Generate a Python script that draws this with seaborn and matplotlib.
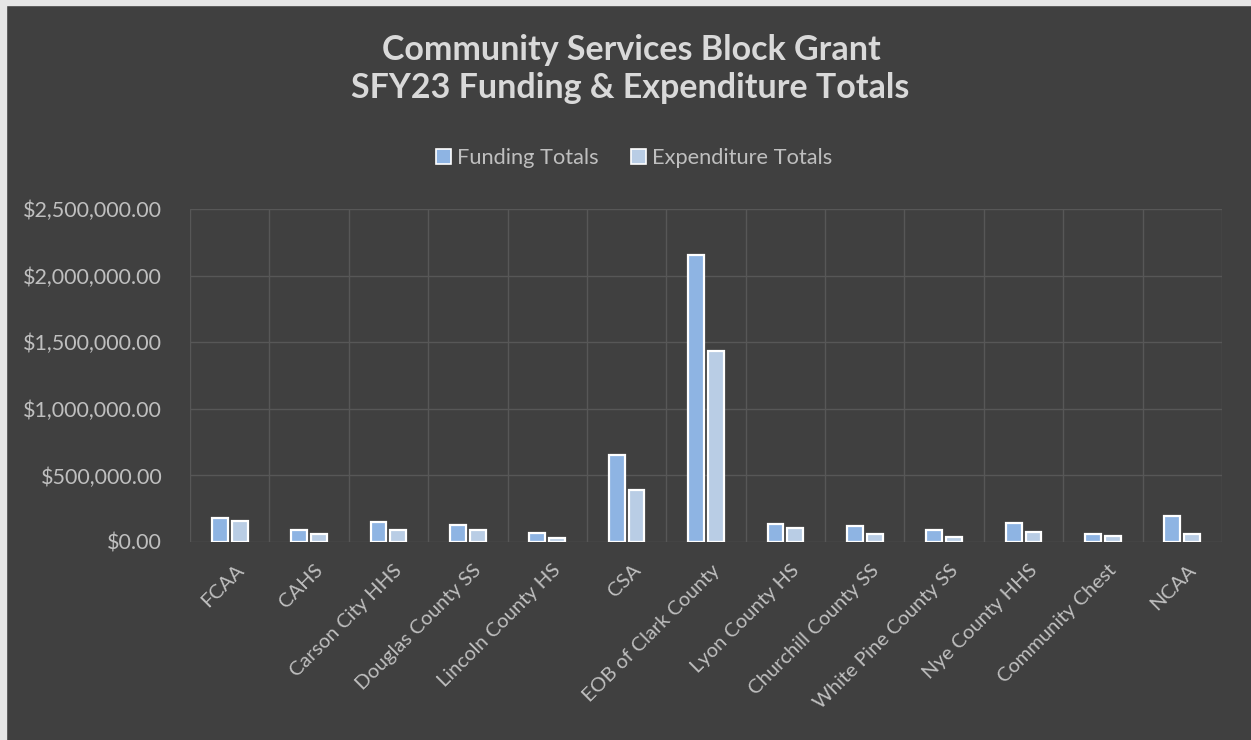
import numpy as np
import pandas as pd
import matplotlib
matplotlib.use("Agg")
import matplotlib.pyplot as plt
import matplotlib.transforms as mtransforms
from matplotlib.patches import Rectangle
from matplotlib.ticker import FuncFormatter
import seaborn as sns

categories = ["FCAA", "CAHS", "Carson City HHS", "Douglas County SS", "Lincoln County HS",
              "CSA", "EOB of Clark County", "Lyon County HS", "Churchill County SS",
              "White Pine County SS", "Nye County HHS", "Community Chest", "NCAA"]
funding = [183000, 88000, 150000, 128000, 68000, 652000, 2158000, 135000, 118000,
           90000, 140000, 60000, 198000]
expenditure = [158000, 58000, 88000, 88000, 33000, 394000, 1432000, 105000, 60000,
               38000, 78000, 45000, 63000]
series_names = ["Funding Totals", "Expenditure Totals"]
title_lines = ["Community Services Block Grant", "SFY23 Funding & Expenditure Totals"]
yticks = [0, 500000, 1000000, 1500000, 2000000, 2500000]

df = pd.DataFrame({
    "Agency": categories * 2,
    "Series": [series_names[0]] * len(categories) + [series_names[1]] * len(categories),
    "Amount": funding + expenditure,
})

sns.set_theme(style="dark")
plt.rcParams["font.family"] = ["Lato", "DejaVu Sans"]

BG = "#404040"
TXT = "#bfbfbf"
GRID = "#575757"

fig = plt.figure(figsize=(12.51, 7.40), dpi=100)
fig.patch.set_facecolor(BG)
fig.add_artist(Rectangle((0, 0), 6 / 1251, 1, transform=fig.transFigure, color="#e6e6e6", zorder=-1))
fig.add_artist(Rectangle((0, 1 - 5 / 740), 1, 5 / 740, transform=fig.transFigure, color="#e6e6e6", zorder=-1))

ax = fig.add_axes([190 / 1251, (740 - 542) / 740, (1222 - 190) / 1251, (542 - 209) / 740])
ax.set_facecolor(BG)

sns.barplot(data=df, x="Agency", y="Amount", hue="Series", order=categories,
            hue_order=series_names, palette=["#8EB4E3", "#B9CDE5"],
            width=0.5, gap=0.2, edgecolor="white", linewidth=1.6,
            saturation=1, errorbar=None, ax=ax, legend=True)

ax.set_ylim(0, 2500000)
ax.set_xlim(-0.5, len(categories) - 0.5)
ax.set_yticks(yticks)
ax.yaxis.set_major_formatter(FuncFormatter(lambda v, p: "${:,.2f}".format(v)))
ax.set_xlabel("")
ax.set_ylabel("")

for y in yticks:
    ax.axhline(y, color=GRID, lw=1, zorder=0)
for x in np.arange(-0.5, len(categories), 1.0):
    ax.axvline(x, color=GRID, lw=1, zorder=0)
ax.grid(False)
for s in ax.spines.values():
    s.set_visible(False)

ax.tick_params(axis="y", length=0, pad=20, labelsize=15.5, labelcolor=TXT)
ax.tick_params(axis="x", length=0, pad=14, labelsize=14.5, labelcolor=TXT)
offset = mtransforms.ScaledTranslation(0.05, 0, fig.dpi_scale_trans)
for lab in ax.get_xticklabels():
    lab.set_rotation(45)
    lab.set_ha("right")
    lab.set_va("top")
    lab.set_rotation_mode("anchor")
    lab.set_transform(lab.get_transform() + offset)

leg = ax.legend(loc="center", bbox_to_anchor=(634 / 1251, 1 - 158 / 740),
                bbox_transform=fig.transFigure, ncol=2, frameon=False,
                fontsize=15.7, handlelength=0.7, handleheight=0.7,
                handletextpad=0.27, columnspacing=1.5, labelcolor=TXT)
for h in leg.legend_handles:
    h.set_edgecolor("white")
    h.set_linewidth(1.2)

fig.text(631 / 1251, 1 - 50 / 740, title_lines[0], ha="center", va="center",
         fontsize=24.5, fontweight="bold", color="#d9d9d9")
fig.text(630 / 1251, 1 - 88 / 740, title_lines[1], ha="center", va="center",
         fontsize=24.5, fontweight="bold", color="#d9d9d9")

fig.savefig("out.png", dpi=100, facecolor=fig.get_facecolor())
